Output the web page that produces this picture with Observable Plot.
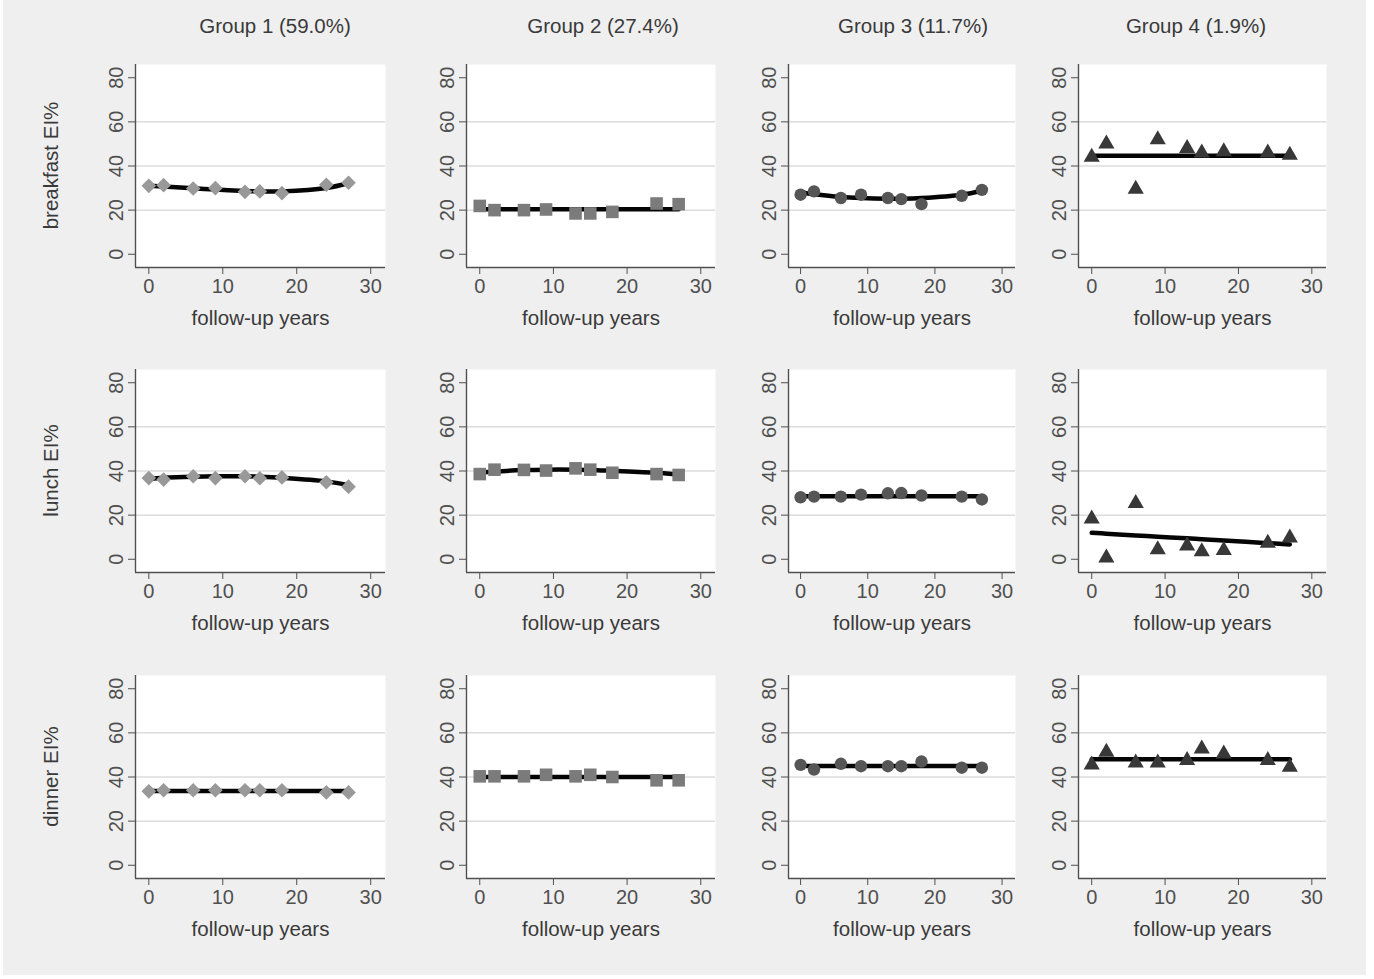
<!DOCTYPE html>
<html><head><meta charset="utf-8">
<script src="https://cdn.jsdelivr.net/npm/d3@7"></script>
<script src="https://cdn.jsdelivr.net/npm/@observablehq/plot@0.6"></script>
<style>
body{margin:0;background:#fff;}
#root{position:relative;width:1374px;height:979px;font-family:"Liberation Sans",Arial,sans-serif;overflow:hidden;}
#bg{position:absolute;left:3px;top:0;width:1363px;height:975px;background:#efefef;}
.panel{position:absolute;}
#overlay{position:absolute;left:0;top:0;}
</style></head><body><div id="root"><div id="bg"></div></div>
<script>
// ---------- data ----------
const years = [0, 2, 6, 9, 13, 15, 18, 24, 27];
const groupTitles = ["Group 1 (59.0%)", "Group 2 (27.4%)", "Group 3 (11.7%)", "Group 4 (1.9%)"];
const mealLabels = ["breakfast EI%", "lunch EI%", "dinner EI%"];
const xLabel = "follow-up years";
const xTicks = [0, 10, 20, 30];
const yTicks = [0, 20, 40, 60, 80];
const gridValues = [20, 40, 60];

// observed means (rows = groups 1..4)
const breakfastObs = [
  [31.0, 31.3, 29.8, 30.0, 28.3, 28.5, 27.7, 31.5, 32.4],
  [21.9, 20.0, 20.0, 20.3, 18.5, 18.5, 19.2, 23.0, 22.7],
  [27.0, 28.5, 25.5, 27.0, 25.5, 25.0, 22.7, 26.5, 29.2],
  [44.0, 50.0, 29.5, 52.0, 48.0, 46.0, 46.5, 46.0, 45.0]
];
const breakfastFit = [
  [31.0, 30.7, 29.9, 29.3, 28.7, 28.5, 28.5, 30.0, 32.3],
  [20.4, 20.4, 20.4, 20.4, 20.4, 20.4, 20.4, 20.4, 20.4],
  [28.0, 27.2, 26.0, 25.5, 25.2, 25.2, 25.5, 27.0, 28.8],
  [44.7, 44.7, 44.7, 44.7, 44.7, 44.7, 44.7, 44.7, 44.7]
];
const lunchObs = [
  [36.8, 36.1, 37.6, 36.8, 37.6, 36.7, 37.1, 34.9, 32.9],
  [38.6, 40.6, 40.5, 40.2, 41.2, 40.6, 39.2, 38.6, 38.2],
  [28.1, 28.4, 28.4, 29.3, 29.9, 30.0, 28.9, 28.4, 27.1],
  [18.3, 0.6, 25.3, 4.4, 6.1, 3.5, 4.0, 7.3, 9.7]
];
const lunchFit = [
  [36.4, 36.9, 37.4, 37.6, 37.6, 37.4, 36.9, 35.3, 33.6],
  [39.3, 39.8, 40.4, 40.6, 40.6, 40.5, 40.1, 39.2, 38.4],
  [28.6, 28.6, 28.6, 28.6, 28.6, 28.6, 28.6, 28.6, 28.6],
  [12.0, 11.6, 10.8, 10.2, 9.5, 9.1, 8.5, 7.3, 6.7]
];
const dinnerObs = [
  [33.5, 34.0, 34.0, 34.0, 34.0, 34.0, 34.0, 33.0, 33.0],
  [40.3, 40.3, 40.3, 41.0, 40.3, 41.0, 40.0, 38.5, 38.5],
  [45.5, 43.4, 46.0, 44.9, 44.9, 44.9, 47.0, 44.2, 44.2],
  [45.5, 51.3, 46.4, 46.4, 47.5, 52.8, 50.5, 47.5, 44.5]
];
const dinnerFit = [
  [33.7, 33.7, 33.7, 33.7, 33.7, 33.7, 33.7, 33.7, 33.7],
  [40.0, 40.0, 40.0, 40.0, 40.0, 40.0, 40.0, 40.0, 40.0],
  [45.0, 45.0, 45.0, 45.0, 45.0, 45.0, 45.0, 45.0, 45.0],
  [48.0, 48.0, 48.0, 48.0, 48.0, 48.0, 48.0, 48.0, 48.0]
];

// ---------- styles / layout ----------
const markerSymbols = ["diamond2", "square", "circle", "triangle"];
const markerColors = ["#999999", "#7b7b7b", "#565656", "#383838"];
const markerRadii = [6.6, 7.1, 6.2, 6.0];
const textColor = "#3a3a3a";
const axisColor = "#505050";
const fontFamily = '"Liberation Sans", Arial, sans-serif';

const colLeft = [135, 466, 788, 1078];
const colWidth = [250, 249, 227, 248];
const rowTop = [64, 369, 675];
const frameH = 203;
const xDomain = [-1.8, 32];
const yDomain = [-6, 86];
const titleX = [275, 603, 913, 1196];

const rowsObs = [breakfastObs, lunchObs, dinnerObs];
const rowsFit = [breakfastFit, lunchFit, dinnerFit];

const root = document.getElementById("root");
const mL = 60, mR = 8, mT = 8, mB = 70;

rowsObs.forEach((obsRows, r) => {
  groupTitles.forEach((g, c) => {
    const obs = years.map((x, i) => ({x, y: obsRows[c][i]}));
    const fit = years.map((x, i) => ({x, y: rowsFit[r][c][i]}));
    const plot = Plot.plot({
      width: colWidth[c] + mL + mR,
      height: frameH + mT + mB,
      marginLeft: mL, marginRight: mR, marginTop: mT, marginBottom: mB,
      style: {background: "transparent", fontFamily, fontSize: "20px", color: textColor, overflow: "visible"},
      x: {domain: xDomain, label: null},
      y: {domain: yDomain, label: null},
      marks: [
        Plot.frame({fill: "white", stroke: "none"}),
        Plot.gridY(gridValues, {stroke: "#dcdcdc", strokeOpacity: 1, strokeWidth: 1.5}),
        Plot.axisY(yTicks, {tickSize: 7, tickPadding: 6, tickRotate: -90, color: axisColor, fontSize: 20, label: null, tickFormat: d => String(d)}),
        Plot.axisX(xTicks, {tickSize: 7, tickPadding: 4.5, color: axisColor, fontSize: 20, label: null, tickFormat: d => String(d)}),
        Plot.ruleX([xDomain[0]], {stroke: axisColor, strokeWidth: 1.4}),
        Plot.ruleY([yDomain[0]], {stroke: axisColor, strokeWidth: 1.4}),
        Plot.line(fit, {x: "x", y: "y", stroke: "#050505", strokeWidth: 4.5, curve: "catmull-rom"}),
        Plot.dot(obs, {x: "x", y: "y", symbol: markerSymbols[c], fill: markerColors[c], stroke: "none", r: markerRadii[c]}),
        Plot.text([xLabel], {frameAnchor: "bottom", dy: 57, lineAnchor: "bottom", fontSize: 20.5, fill: textColor})
      ]
    });
    plot.classList.add("panel");
    plot.style.left = (colLeft[c] - mL) + "px";
    plot.style.top = (rowTop[r] - mT) + "px";
    root.appendChild(plot);
  });
});

// titles and row labels
const overlay = d3.select(root).append("svg").attr("id", "overlay")
  .attr("width", 1374).attr("height", 979)
  .style("font-family", fontFamily).style("pointer-events", "none");
overlay.selectAll("text.title").data(groupTitles).join("text")
  .attr("class", "title")
  .attr("x", (d, i) => titleX[i]).attr("y", 33)
  .attr("text-anchor", "middle").attr("font-size", 20.5).attr("fill", textColor)
  .text(d => d);
overlay.selectAll("text.rowlab").data(mealLabels).join("text")
  .attr("class", "rowlab")
  .attr("transform", (d, i) => `translate(58,${rowTop[i] + frameH / 2}) rotate(-90)`)
  .attr("text-anchor", "middle").attr("font-size", 20.5).attr("fill", textColor)
  .text(d => d);
</script>
</body></html>
